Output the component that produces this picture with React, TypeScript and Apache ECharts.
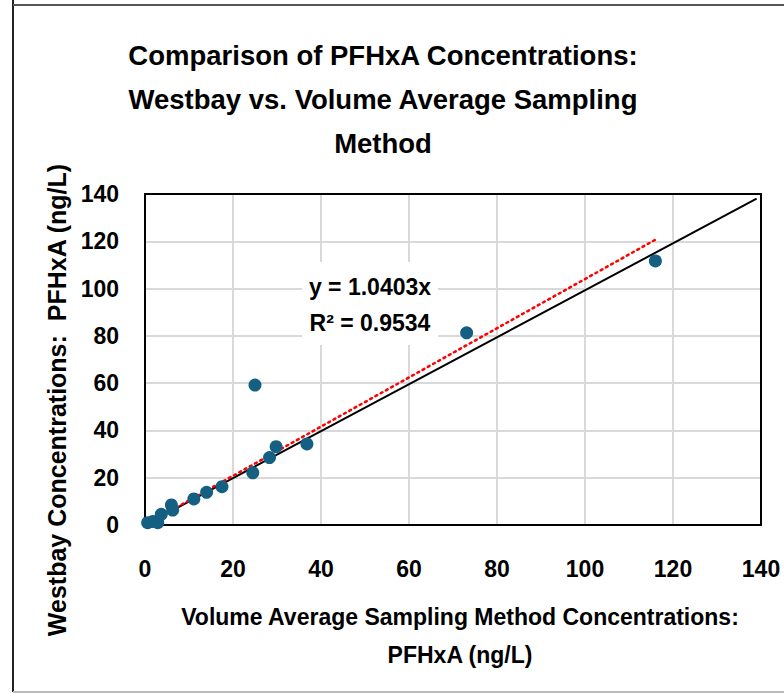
import React, { useEffect, useRef } from "react";
import * as echarts from "echarts";

const volumeAvg = [0.6, 1.8, 2.9, 3.7, 6.0, 6.3, 11.1, 14.0, 17.5, 24.5, 25.0, 28.3, 29.8, 36.8, 73.1, 116.0];
const westbay = [1.0, 1.5, 1.0, 4.5, 8.5, 6.3, 11.0, 13.8, 16.2, 22.1, 59.2, 28.5, 33.1, 34.3, 81.3, 111.7];
const trendSlope = 1.0403;
const rSquared = 0.9534;
const oneToOne = [[0, 0], [139, 138]];
const xTicks = [0, 20, 40, 60, 80, 100, 120, 140];

const FONT = "'Liberation Sans', Arial, sans-serif";

export default function App() {
  const ref = useRef<HTMLDivElement>(null);
  useEffect(() => {
    if (!ref.current) return;
    const chart = echarts.init(ref.current, undefined, { renderer: "svg" });
    const points = volumeAvg.map((x, i) => [x, westbay[i]]);
    const xMax = Math.max(...volumeAvg);
    const trend = [[0, 0], [xMax, trendSlope * xMax]];
    chart.setOption({
      animation: false,
      backgroundColor: "#ffffff",
      title: {
        text: "Comparison of PFHxA Concentrations:\nWestbay vs. Volume Average Sampling\nMethod",
        left: 378,
        top: 28,
        textAlign: "center",
        textStyle: { fontFamily: FONT, fontWeight: "bold", fontSize: 27.5, lineHeight: 44, color: "#000" },
      },
      grid: { left: 145, top: 194, width: 616, height: 331, show: true, borderColor: "#000", borderWidth: 2, z: 5 },
      xAxis: {
        type: "value",
        min: xTicks[0],
        max: xTicks[xTicks.length - 1],
        interval: 20,
        axisLine: { show: false },
        axisTick: { show: false },
        axisLabel: { margin: 32, fontFamily: FONT, fontWeight: "bold", fontSize: 23, color: "#000" },
        splitLine: { show: true, showMinLine: false, showMaxLine: false, lineStyle: { color: "#d9d9d9", width: 2 } },
      },
      yAxis: {
        type: "value",
        min: 0,
        max: 140,
        interval: 20,
        axisLine: { show: false },
        axisTick: { show: false },
        axisLabel: { margin: 26, fontFamily: FONT, fontWeight: "bold", fontSize: 23, color: "#000" },
        splitLine: { show: true, showMinLine: false, showMaxLine: false, lineStyle: { color: "#d9d9d9", width: 2 } },
      },
      series: [
        {
          type: "line",
          data: oneToOne,
          symbol: "none",
          lineStyle: { color: "#000", width: 2 },
          z: 6,
        },
        {
          type: "line",
          data: trend,
          symbol: "none",
          lineStyle: { color: "#ff0000", width: 2.5, type: [2, 4], cap: "round" },
          z: 7,
        },
        {
          type: "scatter",
          data: points,
          symbolSize: 13,
          itemStyle: { color: "#156082", opacity: 1 },
          z: 8,
        },
      ],
      graphic: [
        { type: "line", shape: { x1: 13, y1: 0, x2: 13, y2: 692 }, style: { stroke: "#222", lineWidth: 2 } },
        { type: "line", shape: { x1: 13, y1: 5, x2: 784, y2: 5 }, style: { stroke: "#555", lineWidth: 2 } },
        { type: "line", shape: { x1: 13, y1: 692, x2: 784, y2: 692 }, style: { stroke: "#bbb", lineWidth: 2 } },
        {
          type: "rect",
          shape: { x: 302, y: 262, width: 136, height: 83 },
          style: { fill: "#fff" },
          z: 10,
        },
        {
          type: "text",
          x: 370,
          y: 287,
          style: { text: `y = ${trendSlope.toFixed(4)}x`, fontFamily: FONT, fontWeight: "bold", fontSize: 23, fill: "#000", align: "center", verticalAlign: "middle" },
          z: 11,
        },
        {
          type: "text",
          x: 370,
          y: 323,
          style: { text: `R² = ${rSquared.toFixed(4)}`, fontFamily: FONT, fontWeight: "bold", fontSize: 23, fill: "#000", align: "center", verticalAlign: "middle" },
          z: 11,
        },
        {
          type: "text",
          x: 57,
          y: 400,
          rotation: Math.PI / 2,
          style: { text: "Westbay Concentrations:  PFHxA (ng/L)", fontFamily: FONT, fontWeight: "bold", fontSize: 25, fill: "#000", align: "center", verticalAlign: "middle" },
        },
        {
          type: "text",
          x: 460,
          y: 617,
          style: { text: "Volume Average Sampling Method Concentrations:", fontFamily: FONT, fontWeight: "bold", fontSize: 23, fill: "#000", align: "center", verticalAlign: "middle" },
        },
        {
          type: "text",
          x: 460,
          y: 655,
          style: { text: "PFHxA (ng/L)", fontFamily: FONT, fontWeight: "bold", fontSize: 23, fill: "#000", align: "center", verticalAlign: "middle" },
        },
      ],
    });
    return () => chart.dispose();
  }, []);
  return <div ref={ref} style={{ position: "fixed", left: 0, top: 0, width: 784, height: 694 }} />;
}
